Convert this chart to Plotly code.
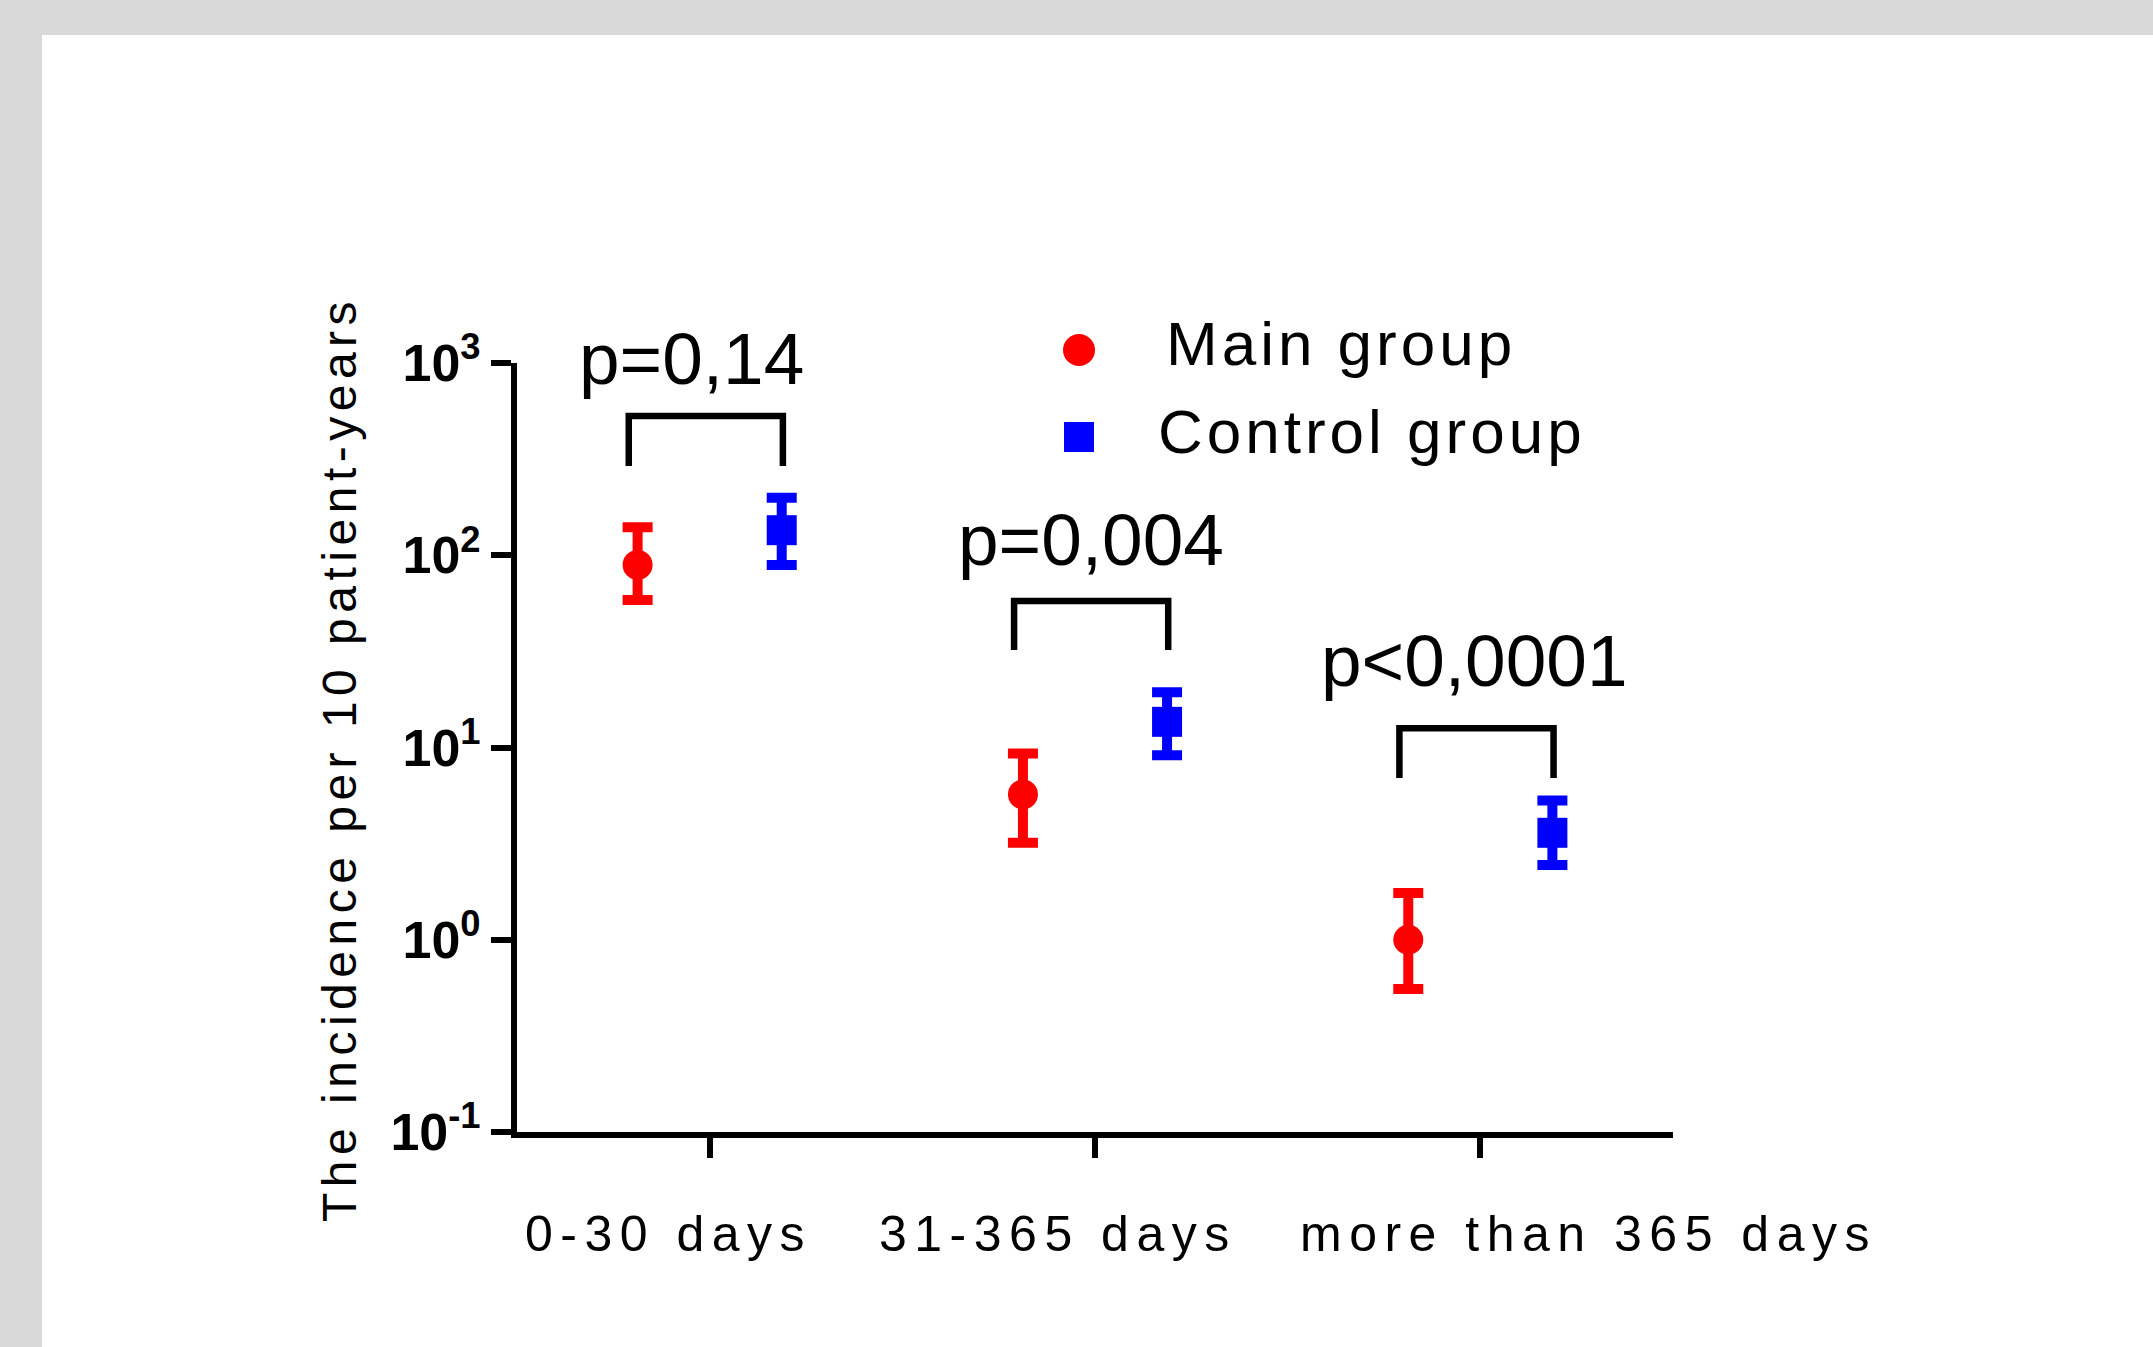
import plotly.graph_objects as go
import math

# ---------------- data ----------------
categories = ["0-30 days", "31-365 days", "more than 365 days"]
main_val = [89, 5.7, 1.0]
main_upper = [140, 9.3, 1.75]
main_lower = [58.5, 3.2, 0.555]
ctrl_val = [135, 13.6, 3.6]
ctrl_upper = [199, 19.4, 5.3]
ctrl_lower = [89, 9.1, 2.45]
p_labels = ["p=0,14", "p=0,004", "p<0,0001"]
bracket_top = [530, 57.8, 12.6]
bracket_bottom = [291, 32.1, 6.94]
y_tickvals = [0.1, 1, 10, 100, 1000]
y_ticktext = ["<b>10<sup>-1</sup></b>", "<b>10<sup>0</sup></b>", "<b>10<sup>1</sup></b>",
              "<b>10<sup>2</sup></b>", "<b>10<sup>3</sup></b>"]
series_names = ["Main group", "Control group"]

# ---------------- layout geometry (pixels) ----------------
FW, FH = 2153, 1347
L, R, T, B = 517, 1673, 363, 1132
W, H = R - L, B - T
RED = "#ff0000"
BLUE = "#0000ff"
FONT = "Liberation Sans, Arial, Helvetica, sans-serif"


def px_x(px):
    return (px - L) / W


def px_y(py):
    return (B - py) / H


OFF = 0.187
x_main = [i - OFF for i in range(len(categories))]
x_ctrl = [i + OFF for i in range(len(categories))]

fig = go.Figure()

# brackets
for i in range(len(categories)):
    xl, xr = i - 0.21, i + 0.19
    fig.add_trace(go.Scatter(
        x=[xl, xl, xr, xr],
        y=[bracket_bottom[i], bracket_top[i], bracket_top[i], bracket_bottom[i]],
        mode="lines", line=dict(color="black", width=6.5),
        showlegend=False, hoverinfo="skip"))

fig.add_trace(go.Scatter(
    x=x_main, y=main_val, mode="markers", name=series_names[0],
    marker=dict(symbol="circle", size=30, color=RED),
    error_y=dict(type="data", symmetric=False,
                 array=[u - v for u, v in zip(main_upper, main_val)],
                 arrayminus=[v - l for v, l in zip(main_val, main_lower)],
                 color=RED, thickness=10, width=15),
    showlegend=False))

fig.add_trace(go.Scatter(
    x=x_ctrl, y=ctrl_val, mode="markers", name=series_names[1],
    marker=dict(symbol="square", size=30, color=BLUE),
    error_y=dict(type="data", symmetric=False,
                 array=[u - v for u, v in zip(ctrl_upper, ctrl_val)],
                 arrayminus=[v - l for v, l in zip(ctrl_val, ctrl_lower)],
                 color=BLUE, thickness=10, width=15),
    showlegend=False))

annotations = []
# p-value labels
p_xshift = [-14, 0, -2]
p_yshift = [15, 19, 25]
for i, txt in enumerate(p_labels):
    annotations.append(dict(
        x=i - 0.01, y=math.log10(bracket_top[i]), xref="x", yref="y",
        text=txt, showarrow=False, xanchor="center", yanchor="bottom",
        xshift=p_xshift[i], yshift=p_yshift[i],
        font=dict(family=FONT, size=73, color="black")))

# category labels (offset from ticks as in the original)
cat_xshift = [-41, -37, 108]
for i, txt in enumerate(categories):
    annotations.append(dict(
        x=i, y=px_y(1234), xref="x", yref="paper",
        text='<span style="letter-spacing:7.5px">' + txt + '</span>',
        showarrow=False, xanchor="center", yanchor="middle", xshift=cat_xshift[i],
        font=dict(family=FONT, size=50, color="black")))

# y-axis title
annotations.append(dict(
    x=px_x(339), y=px_y(759), xref="paper", yref="paper",
    text='<span style="letter-spacing:5.5px">The incidence per 10 patient-years</span>',
    textangle=-90, showarrow=False, xanchor="center", yanchor="middle",
    font=dict(family=FONT, size=48, color="black")))

# legend texts
leg_text_x = [1164, 1156]
leg_text_y = [343, 431]
for name, lx, ly in zip(series_names, leg_text_x, leg_text_y):
    annotations.append(dict(
        x=px_x(lx), y=px_y(ly), xref="paper", yref="paper",
        text='<span style="letter-spacing:4px">' + name + '</span>',
        showarrow=False, xanchor="left", yanchor="middle",
        font=dict(family=FONT, size=62, color="black")))

shapes = [
    # grey frame of the page (top band and left band)
    dict(type="rect", xref="paper", yref="paper", layer="below",
         x0=px_x(0), x1=px_x(FW), y0=px_y(0), y1=px_y(35),
         fillcolor="#d9d9d9", line=dict(width=0)),
    dict(type="rect", xref="paper", yref="paper", layer="below",
         x0=px_x(0), x1=px_x(42), y0=px_y(0), y1=px_y(FH),
         fillcolor="#d9d9d9", line=dict(width=0)),
    # legend symbols
    dict(type="circle", xref="paper", yref="paper", xsizemode="pixel", ysizemode="pixel",
         xanchor=px_x(1079), yanchor=px_y(350), x0=-16, x1=16, y0=-16, y1=16,
         fillcolor=RED, line=dict(width=0)),
    dict(type="rect", xref="paper", yref="paper", xsizemode="pixel", ysizemode="pixel",
         xanchor=px_x(1079), yanchor=px_y(437), x0=-15, x1=15, y0=-15, y1=15,
         fillcolor=BLUE, line=dict(width=0)),
]

fig.update_layout(
    width=FW, height=FH,
    margin=dict(l=L, r=FW - R, t=T, b=FH - B, autoexpand=False),
    paper_bgcolor="white", plot_bgcolor="rgba(0,0,0,0)",
    showlegend=False,
    annotations=annotations, shapes=shapes,
    font=dict(family=FONT, color="black"),
    xaxis=dict(range=[-0.5, 2.5], tickvals=[0, 1, 2], showticklabels=False,
               ticks="outside", ticklen=20, tickwidth=6, tickcolor="black",
               showline=True, linewidth=6, linecolor="black",
               showgrid=False, zeroline=False),
    yaxis=dict(type="log", range=[-1, 3], tickvals=y_tickvals, ticktext=y_ticktext,
               ticks="outside", ticklen=20, tickwidth=6, tickcolor="black",
               tickfont=dict(family=FONT, size=52, color="black"),
               showline=True, linewidth=6, linecolor="black",
               showgrid=False, zeroline=False),
)

fig.write_html("out.html",
               config={"displayModeBar": False},
               post_script="document.body.style.margin='0';document.body.style.overflow='hidden';")
